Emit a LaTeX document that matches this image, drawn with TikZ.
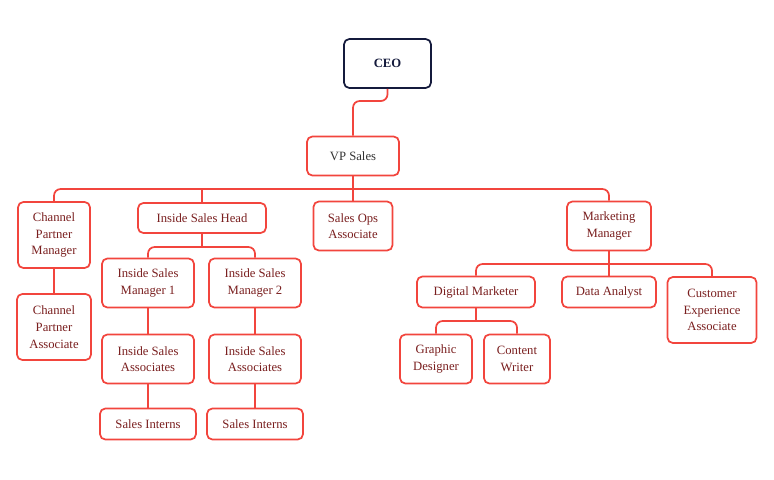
\documentclass[tikz,border=0pt]{standalone}
\usepackage{fontspec}
\setmainfont{Liberation Serif}
\usetikzlibrary{positioning}
\definecolor{linkColor}{HTML}{F2453D}
\definecolor{textColor}{HTML}{7A1F1F}
\definecolor{chiefColor}{HTML}{141A3C}
\tikzstyle{role} = [draw=linkColor, line width=1.3pt, rounded corners=4pt, fill=white, align=center, text=textColor, font=\fontsize{9.5}{12.5}\selectfont, inner sep=0pt]
\tikzstyle{chief} = [role, draw=chiefColor, text=chiefColor, font=\bfseries\fontsize{9.5}{12}\selectfont]
\tikzstyle{link} = [draw=linkColor, line width=1.3pt, rounded corners=5pt]
\newcommand{\role}[6]{\node [role, minimum width=#4*0.75pt, minimum height=#5*0.75pt] (#1) at (#2,#3) {#6};}
\begin{document}
\begin{tikzpicture}[x=0.75pt, y=-0.75pt]
\useasboundingbox (0,0) rectangle (774,479);
% bus points
\coordinate (ceoDrop) at (387.5,101);
\coordinate (vpBus) at (353,189);
\coordinate (ishBus) at (202,247);
\coordinate (mmBus) at (609,264);
\coordinate (dmBus) at (476,321);
% boxes
\node [chief, minimum width=87*0.75pt, minimum height=49*0.75pt] (ceo) at (387.5,63.5) {CEO};
\node [role, minimum width=92*0.75pt, minimum height=39*0.75pt, text=black!80] (vp) at (353,156) {VP Sales};
\role{cpm}{54}{235}{72}{66}{Channel\\Partner\\Manager}
\role{ish}{202}{218}{128}{30}{Inside Sales Head}
\role{soa}{353}{226}{79}{49}{Sales Ops\\Associate}
\role{mm}{609}{226}{84}{49}{Marketing\\Manager}
\role{cpa}{54}{327}{74}{66}{Channel\\Partner\\Associate}
\role{ism1}{148}{283}{92}{49}{Inside Sales\\Manager 1}
\role{ism2}{255}{283}{92}{49}{Inside Sales\\Manager 2}
\role{isa1}{148}{359}{92}{49}{Inside Sales\\Associates}
\role{isa2}{255}{359}{92}{49}{Inside Sales\\Associates}
\role{si1}{148}{424}{96}{31}{Sales Interns}
\role{si2}{255}{424}{96}{31}{Sales Interns}
\role{dm}{476}{292}{118}{31}{Digital Marketer}
\role{da}{609}{292}{94}{31}{Data Analyst}
\role{cea}{712}{310}{89}{66}{Customer\\Experience\\Associate}
\role{gd}{436}{359}{72}{49}{Graphic\\Designer}
\role{cw}{517}{359}{66}{49}{Content\\Writer}
% connectors
\draw [link] (ceo.south) -- (ceoDrop) -| (vp.north);
\draw [link] (cpm.north) |- (vpBus) -| (mm.north);
\draw [link] (vp) -- (soa) (ish.north) -- (ish.north |- vpBus);
\draw [link] (ism1.north) |- (ishBus) -| (ism2.north);
\draw [link] (ish) -- (ishBus);
\draw [link] (dm.north) |- (mmBus) -| (cea.north);
\draw [link] (mm) -- (da);
\draw [link] (gd.north) |- (dmBus) -| (cw.north);
\draw [link] (dm) -- (dmBus);
\draw [link] (cpm) -- (cpa);
\draw [link] (ism1) -- (isa1) (isa1) -- (si1);
\draw [link] (ism2) -- (isa2) (isa2) -- (si2);
\end{tikzpicture}
\end{document}
